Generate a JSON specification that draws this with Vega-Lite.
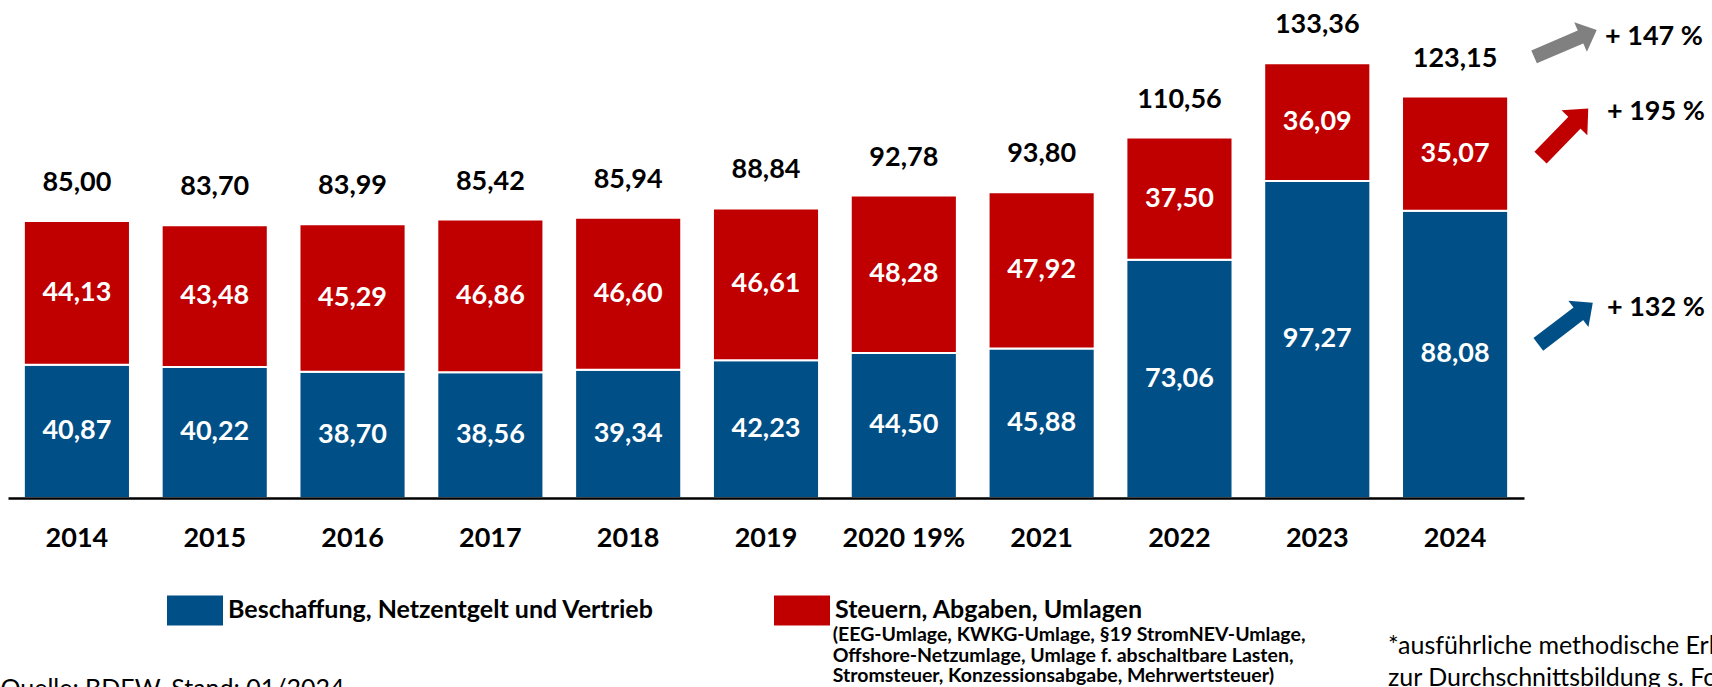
{
  "$schema": "https://vega.github.io/schema/vega-lite/v6.json",
  "width": 1516,
  "height": 489,
  "autosize": {"type": "none"},
  "padding": {"left": 8, "top": 9, "right": 188, "bottom": 189},
  "background": "white",
  "config": {
    "view": {"stroke": null},
    "font": "Lato",
    "locale": {"number": {"decimal": ",", "thousands": ".", "grouping": [3], "currency": ["", " €"]}}
  },
  "resolve": {"scale": {"x": "independent"}},
  "layer": [
    {
      "data": {"values": [
        {"jahr": "2014", "kategorie": "Beschaffung, Netzentgelt und Vertrieb", "wert": 40.87},
        {"jahr": "2014", "kategorie": "Steuern, Abgaben, Umlagen", "wert": 44.13},
        {"jahr": "2015", "kategorie": "Beschaffung, Netzentgelt und Vertrieb", "wert": 40.22},
        {"jahr": "2015", "kategorie": "Steuern, Abgaben, Umlagen", "wert": 43.48},
        {"jahr": "2016", "kategorie": "Beschaffung, Netzentgelt und Vertrieb", "wert": 38.70},
        {"jahr": "2016", "kategorie": "Steuern, Abgaben, Umlagen", "wert": 45.29},
        {"jahr": "2017", "kategorie": "Beschaffung, Netzentgelt und Vertrieb", "wert": 38.56},
        {"jahr": "2017", "kategorie": "Steuern, Abgaben, Umlagen", "wert": 46.86},
        {"jahr": "2018", "kategorie": "Beschaffung, Netzentgelt und Vertrieb", "wert": 39.34},
        {"jahr": "2018", "kategorie": "Steuern, Abgaben, Umlagen", "wert": 46.60},
        {"jahr": "2019", "kategorie": "Beschaffung, Netzentgelt und Vertrieb", "wert": 42.23},
        {"jahr": "2019", "kategorie": "Steuern, Abgaben, Umlagen", "wert": 46.61},
        {"jahr": "2020 19%", "kategorie": "Beschaffung, Netzentgelt und Vertrieb", "wert": 44.50},
        {"jahr": "2020 19%", "kategorie": "Steuern, Abgaben, Umlagen", "wert": 48.28},
        {"jahr": "2021", "kategorie": "Beschaffung, Netzentgelt und Vertrieb", "wert": 45.88},
        {"jahr": "2021", "kategorie": "Steuern, Abgaben, Umlagen", "wert": 47.92},
        {"jahr": "2022", "kategorie": "Beschaffung, Netzentgelt und Vertrieb", "wert": 73.06},
        {"jahr": "2022", "kategorie": "Steuern, Abgaben, Umlagen", "wert": 37.50},
        {"jahr": "2023", "kategorie": "Beschaffung, Netzentgelt und Vertrieb", "wert": 97.27},
        {"jahr": "2023", "kategorie": "Steuern, Abgaben, Umlagen", "wert": 36.09},
        {"jahr": "2024", "kategorie": "Beschaffung, Netzentgelt und Vertrieb", "wert": 88.08},
        {"jahr": "2024", "kategorie": "Steuern, Abgaben, Umlagen", "wert": 35.07}
      ]},
      "encoding": {
        "x": {
          "field": "jahr", "type": "nominal", "sort": null,
          "scale": {"paddingInner": 0.23, "paddingOuter": 0.115},
          "axis": {
            "title": null, "labelFont": "Lato", "labelFontWeight": "bold", "labelFontSize": 27,
            "labelColor": "black", "labelAngle": 0, "ticks": false, "tickSize": 0,
            "labelPadding": 40, "labelBaseline": "middle", "domainColor": "black",
            "domainWidth": 2.5, "zindex": 1, "labelLimit": 300
          }
        }
      },
      "layer": [
        {
          "mark": {"type": "bar", "stroke": "white", "strokeWidth": 2},
          "encoding": {
            "y": {"field": "wert", "type": "quantitative", "stack": "zero", "scale": {"domain": [0, 150], "nice": false}, "axis": null},
            "order": {"field": "kategorie", "sort": "ascending"},
            "color": {
              "field": "kategorie", "type": "nominal",
              "scale": {"domain": ["Beschaffung, Netzentgelt und Vertrieb", "Steuern, Abgaben, Umlagen"], "range": ["#004F87", "#C00000"]},
              "legend": {
                "orient": "none", "legendX": 159, "legendY": 573, "direction": "horizontal",
                "title": null, "symbolType": "M-1,-0.536H1V0.536H-1Z", "symbolSize": 3136,
                "symbolStrokeWidth": 0, "symbolOpacity": 1, "labelFont": "Lato",
                "labelFontWeight": "bold", "labelFontSize": 25, "labelColor": "black",
                "labelLimit": 800, "labelOffset": 5, "columnPadding": 120, "padding": 0
              }
            }
          }
        },
        {
          "mark": {"type": "text", "color": "white", "font": "Lato", "fontWeight": "bold", "fontSize": 27, "baseline": "middle"},
          "encoding": {
            "y": {"field": "wert", "type": "quantitative", "stack": "zero", "bandPosition": 0.5, "scale": {"domain": [0, 150], "nice": false}},
            "detail": {"field": "kategorie"},
            "order": {"field": "kategorie", "sort": "ascending"},
            "text": {"field": "wert", "type": "quantitative", "format": ".2f"}
          }
        },
        {
          "transform": [{"aggregate": [{"op": "sum", "field": "wert", "as": "summe"}], "groupby": ["jahr"]}],
          "mark": {"type": "text", "dy": -38, "baseline": "middle", "font": "Lato", "fontWeight": "bold", "fontSize": 27, "color": "black"},
          "encoding": {
            "y": {"field": "summe", "type": "quantitative", "scale": {"domain": [0, 150], "nice": false}},
            "text": {"field": "summe", "type": "quantitative", "format": ".2f"}
          }
        }
      ]
    },
    {
      "layer": [
        {
          "data": {"values": [{"pfeil": "gesamt"}]},
          "mark": {"type": "rule", "strokeWidth": 14, "strokeCap": "butt", "color": "#808080"},
          "encoding": {
            "x": {"datum": 11.073, "type": "quantitative", "scale": {"domain": [0, 11], "nice": false, "zero": false}, "axis": null},
            "x2": {"datum": 11.469},
            "y": {"datum": 135.3, "type": "quantitative", "scale": {"domain": [0, 150], "nice": false}},
            "y2": {"datum": 142.5}
          }
        },
        {
          "data": {"values": [{"pfeil": "gesamt"}]},
          "mark": {"type": "point", "shape": "M-1,0.55L0,-0.55L1,0.55Z", "size": 1024, "angle": 66.7, "filled": true, "color": "#808080", "opacity": 1, "strokeWidth": 0},
          "encoding": {
            "x": {"datum": 11.469, "type": "quantitative", "scale": {"domain": [0, 11], "nice": false, "zero": false}, "axis": null},
            "y": {"datum": 142.5, "type": "quantitative", "scale": {"domain": [0, 150], "nice": false}}
          }
        },
        {
          "data": {"values": [{"pfeil": "steuern"}]},
          "mark": {"type": "rule", "strokeWidth": 17, "strokeCap": "butt", "color": "#C00000"},
          "encoding": {
            "x": {"datum": 11.120, "type": "quantitative", "scale": {"domain": [0, 11], "nice": false, "zero": false}, "axis": null},
            "x2": {"datum": 11.416},
            "y": {"datum": 104.4, "type": "quantitative", "scale": {"domain": [0, 150], "nice": false}},
            "y2": {"datum": 117.3}
          }
        },
        {
          "data": {"values": [{"pfeil": "steuern"}]},
          "mark": {"type": "point", "shape": "M-1,0.55L0,-0.55L1,0.55Z", "size": 1296, "angle": 44.2, "filled": true, "color": "#C00000", "opacity": 1, "strokeWidth": 0},
          "encoding": {
            "x": {"datum": 11.416, "type": "quantitative", "scale": {"domain": [0, 11], "nice": false, "zero": false}, "axis": null},
            "y": {"datum": 117.3, "type": "quantitative", "scale": {"domain": [0, 150], "nice": false}}
          }
        },
        {
          "data": {"values": [{"pfeil": "beschaffung"}]},
          "mark": {"type": "rule", "strokeWidth": 16, "strokeCap": "butt", "color": "#004F87"},
          "encoding": {
            "x": {"datum": 11.104, "type": "quantitative", "scale": {"domain": [0, 11], "nice": false, "zero": false}, "axis": null},
            "x2": {"datum": 11.447},
            "y": {"datum": 47.1, "type": "quantitative", "scale": {"domain": [0, 150], "nice": false}},
            "y2": {"datum": 58.2}
          }
        },
        {
          "data": {"values": [{"pfeil": "beschaffung"}]},
          "mark": {"type": "point", "shape": "M-1,0.55L0,-0.55L1,0.55Z", "size": 1089, "angle": 52.5, "filled": true, "color": "#004F87", "opacity": 1, "strokeWidth": 0},
          "encoding": {
            "x": {"datum": 11.447, "type": "quantitative", "scale": {"domain": [0, 11], "nice": false, "zero": false}, "axis": null},
            "y": {"datum": 58.2, "type": "quantitative", "scale": {"domain": [0, 150], "nice": false}}
          }
        },
        {
          "data": {"values": [{"t": "+ 147 %"}]},
          "mark": {"type": "text", "align": "left", "baseline": "middle", "font": "Lato", "fontWeight": "bold", "fontSize": 27, "color": "black"},
          "encoding": {
            "x": {"datum": 11.588, "type": "quantitative", "scale": {"domain": [0, 11], "nice": false, "zero": false}, "axis": null},
            "y": {"datum": 141.4, "type": "quantitative", "scale": {"domain": [0, 150], "nice": false}},
            "text": {"field": "t"}
          }
        },
        {
          "data": {"values": [{"t": "+ 195 %"}]},
          "mark": {"type": "text", "align": "left", "baseline": "middle", "font": "Lato", "fontWeight": "bold", "fontSize": 27, "color": "black"},
          "encoding": {
            "x": {"datum": 11.602, "type": "quantitative", "scale": {"domain": [0, 11], "nice": false, "zero": false}, "axis": null},
            "y": {"datum": 118.4, "type": "quantitative", "scale": {"domain": [0, 150], "nice": false}},
            "text": {"field": "t"}
          }
        },
        {
          "data": {"values": [{"t": "+ 132 %"}]},
          "mark": {"type": "text", "align": "left", "baseline": "middle", "font": "Lato", "fontWeight": "bold", "fontSize": 27, "color": "black"},
          "encoding": {
            "x": {"datum": 11.602, "type": "quantitative", "scale": {"domain": [0, 11], "nice": false, "zero": false}, "axis": null},
            "y": {"datum": 58.3, "type": "quantitative", "scale": {"domain": [0, 150], "nice": false}},
            "text": {"field": "t"}
          }
        },
        {
          "data": {"values": [{"t": "(EEG-Umlage, KWKG-Umlage, §19 StromNEV-Umlage,\nOffshore-Netzumlage,  Umlage f. abschaltbare Lasten,\nStromsteuer, Konzessionsabgabe, Mehrwertsteuer)"}]},
          "mark": {"type": "text", "align": "left", "baseline": "alphabetic", "lineBreak": "\n", "lineHeight": 20.4, "font": "Lato", "fontWeight": "bold", "fontSize": 19.5, "color": "black"},
          "encoding": {
            "x": {"datum": 5.984, "type": "quantitative", "scale": {"domain": [0, 11], "nice": false, "zero": false}, "axis": null},
            "y": {"datum": -43.9, "type": "quantitative", "scale": {"domain": [0, 150], "nice": false}},
            "text": {"field": "t"}
          }
        },
        {
          "data": {"values": [{"t": "*ausführliche methodische Erläuterungen\nzur Durchschnittsbildung s. Folie"}]},
          "mark": {"type": "text", "align": "left", "baseline": "alphabetic", "lineBreak": "\n", "lineHeight": 31.7, "font": "Lato", "fontSize": 25, "color": "black"},
          "encoding": {
            "x": {"datum": 10.013, "type": "quantitative", "scale": {"domain": [0, 11], "nice": false, "zero": false}, "axis": null},
            "y": {"datum": -47.9, "type": "quantitative", "scale": {"domain": [0, 150], "nice": false}},
            "text": {"field": "t"}
          }
        },
        {
          "data": {"values": [{"t": "Quelle: BDEW, Stand: 01/2024"}]},
          "mark": {"type": "text", "align": "left", "baseline": "alphabetic", "font": "Lato", "fontSize": 25, "color": "black"},
          "encoding": {
            "x": {"datum": -0.055, "type": "quantitative", "scale": {"domain": [0, 11], "nice": false, "zero": false}, "axis": null},
            "y": {"datum": -61.0, "type": "quantitative", "scale": {"domain": [0, 150], "nice": false}},
            "text": {"field": "t"}
          }
        }
      ]
    }
  ]
}
